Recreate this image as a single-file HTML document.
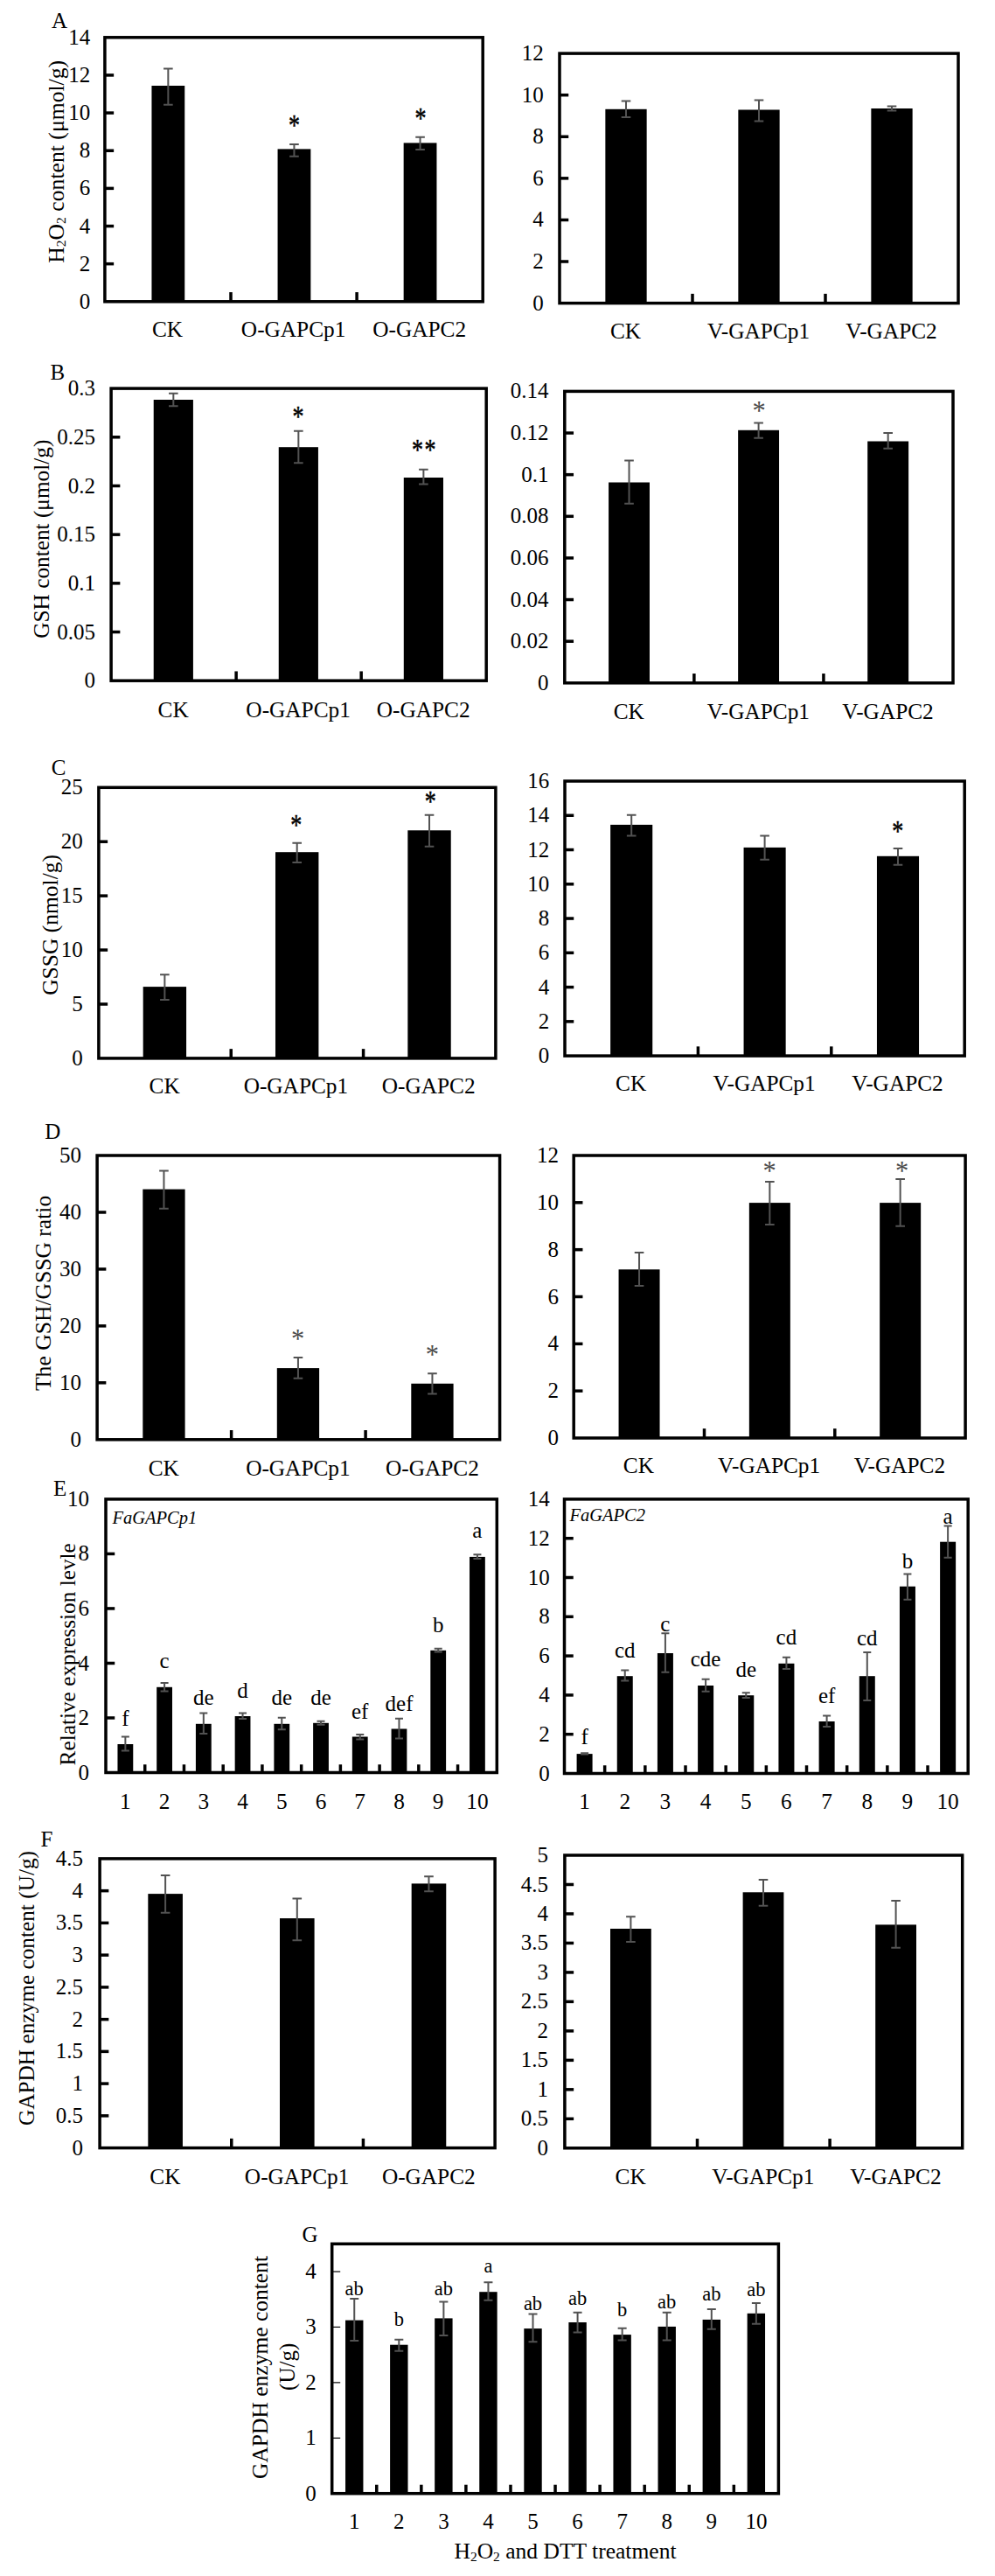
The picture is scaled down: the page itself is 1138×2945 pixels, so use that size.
<!DOCTYPE html>
<html lang="en"><head><meta charset="utf-8"><title>Figure</title>
<style>html,body{margin:0;padding:0;background:#fff}svg{display:block}</style>
</head><body>
<svg width="1138" height="2945" viewBox="0 0 1138 2945" font-family="'Liberation Serif', 'Times New Roman', serif" fill="#000">
<text x="59.0" y="31.6" font-size="25" text-anchor="start">A</text>
<text transform="translate(72.8 184.8) rotate(-90)" font-size="25.7" text-anchor="middle">H<tspan font-size="15.5" dy="2.6">2</tspan><tspan dy="-2.6">O</tspan><tspan font-size="15.5" dy="2.6">2</tspan><tspan dy="-2.6"> content (μmol/g)</tspan></text>
<rect x="119.90" y="42.80" width="432.30" height="302.00" fill="none" stroke="#000" stroke-width="3.5"/>
<text x="103.3" y="352.8" font-size="25" text-anchor="end">0</text>
<line x1="119.90" x2="130.15" y1="301.66" y2="301.66" stroke="#000" stroke-width="3.5"/>
<text x="103.3" y="309.7" font-size="25" text-anchor="end">2</text>
<line x1="119.90" x2="130.15" y1="258.51" y2="258.51" stroke="#000" stroke-width="3.5"/>
<text x="103.3" y="266.5" font-size="25" text-anchor="end">4</text>
<line x1="119.90" x2="130.15" y1="215.37" y2="215.37" stroke="#000" stroke-width="3.5"/>
<text x="103.3" y="223.4" font-size="25" text-anchor="end">6</text>
<line x1="119.90" x2="130.15" y1="172.23" y2="172.23" stroke="#000" stroke-width="3.5"/>
<text x="103.3" y="180.2" font-size="25" text-anchor="end">8</text>
<line x1="119.90" x2="130.15" y1="129.09" y2="129.09" stroke="#000" stroke-width="3.5"/>
<text x="103.3" y="137.1" font-size="25" text-anchor="end">10</text>
<line x1="119.90" x2="130.15" y1="85.94" y2="85.94" stroke="#000" stroke-width="3.5"/>
<text x="103.3" y="93.9" font-size="25" text-anchor="end">12</text>
<text x="103.3" y="50.8" font-size="25" text-anchor="end">14</text>
<line x1="264.00" x2="264.00" y1="344.80" y2="334.05" stroke="#000" stroke-width="3.5"/>
<line x1="408.10" x2="408.10" y1="344.80" y2="334.05" stroke="#000" stroke-width="3.5"/>
<rect x="173.45" y="98.00" width="37.80" height="246.80" fill="#000"/>
<path d="M192.35 78.40V119.70M187.05 78.40h10.6M187.05 119.70h10.6" stroke="#525252" stroke-width="2" fill="none"/>
<rect x="317.55" y="170.40" width="37.80" height="174.40" fill="#000"/>
<path d="M336.45 164.90V178.80M331.15 164.90h10.6M331.15 178.80h10.6" stroke="#525252" stroke-width="2" fill="none"/>
<rect x="461.65" y="163.40" width="37.80" height="181.40" fill="#000"/>
<path d="M480.55 156.80V171.00M475.25 156.80h10.6M475.25 171.00h10.6" stroke="#525252" stroke-width="2" fill="none"/>
<text x="191.5" y="384.6" font-size="25.3" text-anchor="middle">CK</text>
<text x="335.6" y="384.6" font-size="25.3" text-anchor="middle">O-GAPCp1</text>
<text x="479.7" y="384.6" font-size="25.3" text-anchor="middle">O-GAPC2</text>
<text transform="translate(336.5 139.0) scale(0.93 1.19)" y="12.79" font-size="28" text-anchor="middle" stroke="#000" stroke-width="0.45">*</text>
<text transform="translate(480.9 131.2) scale(0.93 1.19)" y="12.79" font-size="28" text-anchor="middle" stroke="#000" stroke-width="0.45">*</text>
<rect x="640.00" y="61.10" width="456.00" height="285.50" fill="none" stroke="#000" stroke-width="3.5"/>
<text x="621.8" y="354.6" font-size="25" text-anchor="end">0</text>
<line x1="640.00" x2="650.25" y1="299.02" y2="299.02" stroke="#000" stroke-width="3.5"/>
<text x="621.8" y="307.0" font-size="25" text-anchor="end">2</text>
<line x1="640.00" x2="650.25" y1="251.43" y2="251.43" stroke="#000" stroke-width="3.5"/>
<text x="621.8" y="259.4" font-size="25" text-anchor="end">4</text>
<line x1="640.00" x2="650.25" y1="203.85" y2="203.85" stroke="#000" stroke-width="3.5"/>
<text x="621.8" y="211.9" font-size="25" text-anchor="end">6</text>
<line x1="640.00" x2="650.25" y1="156.27" y2="156.27" stroke="#000" stroke-width="3.5"/>
<text x="621.8" y="164.3" font-size="25" text-anchor="end">8</text>
<line x1="640.00" x2="650.25" y1="108.68" y2="108.68" stroke="#000" stroke-width="3.5"/>
<text x="621.8" y="116.7" font-size="25" text-anchor="end">10</text>
<text x="621.8" y="69.1" font-size="25" text-anchor="end">12</text>
<line x1="792.00" x2="792.00" y1="346.60" y2="335.85" stroke="#000" stroke-width="3.5"/>
<line x1="944.00" x2="944.00" y1="346.60" y2="335.85" stroke="#000" stroke-width="3.5"/>
<rect x="692.35" y="124.80" width="47.30" height="221.80" fill="#000"/>
<path d="M716.00 115.40V134.00M710.70 115.40h10.6M710.70 134.00h10.6" stroke="#525252" stroke-width="2" fill="none"/>
<rect x="844.35" y="125.50" width="47.30" height="221.10" fill="#000"/>
<path d="M868.00 114.40V138.50M862.70 114.40h10.6M862.70 138.50h10.6" stroke="#525252" stroke-width="2" fill="none"/>
<rect x="996.35" y="124.00" width="47.30" height="222.60" fill="#000"/>
<path d="M1020.00 121.50V126.50M1014.70 121.50h10.6M1014.70 126.50h10.6" stroke="#525252" stroke-width="2" fill="none"/>
<text x="715.5" y="386.8" font-size="25.3" text-anchor="middle">CK</text>
<text x="867.5" y="386.8" font-size="25.3" text-anchor="middle">V-GAPCp1</text>
<text x="1019.5" y="386.8" font-size="25.3" text-anchor="middle">V-GAPC2</text>
<text x="57.4" y="434.2" font-size="25" text-anchor="start">B</text>
<text transform="translate(56.2 616.2) rotate(-90)" font-size="25.3" text-anchor="middle">GSH content (μmol/g)</text>
<rect x="127.10" y="444.10" width="429.10" height="334.10" fill="none" stroke="#000" stroke-width="3.5"/>
<text x="109.1" y="786.2" font-size="25" text-anchor="end">0</text>
<line x1="127.10" x2="137.35" y1="722.52" y2="722.52" stroke="#000" stroke-width="3.5"/>
<text x="109.1" y="730.5" font-size="25" text-anchor="end">0.05</text>
<line x1="127.10" x2="137.35" y1="666.83" y2="666.83" stroke="#000" stroke-width="3.5"/>
<text x="109.1" y="674.8" font-size="25" text-anchor="end">0.1</text>
<line x1="127.10" x2="137.35" y1="611.15" y2="611.15" stroke="#000" stroke-width="3.5"/>
<text x="109.1" y="619.1" font-size="25" text-anchor="end">0.15</text>
<line x1="127.10" x2="137.35" y1="555.47" y2="555.47" stroke="#000" stroke-width="3.5"/>
<text x="109.1" y="563.5" font-size="25" text-anchor="end">0.2</text>
<line x1="127.10" x2="137.35" y1="499.78" y2="499.78" stroke="#000" stroke-width="3.5"/>
<text x="109.1" y="507.8" font-size="25" text-anchor="end">0.25</text>
<text x="109.1" y="452.1" font-size="25" text-anchor="end">0.3</text>
<line x1="270.13" x2="270.13" y1="778.20" y2="767.45" stroke="#000" stroke-width="3.5"/>
<line x1="413.17" x2="413.17" y1="778.20" y2="767.45" stroke="#000" stroke-width="3.5"/>
<rect x="175.72" y="457.00" width="45.20" height="321.20" fill="#000"/>
<path d="M198.32 449.80V464.20M193.02 449.80h10.6M193.02 464.20h10.6" stroke="#525252" stroke-width="2" fill="none"/>
<rect x="318.75" y="511.20" width="45.20" height="267.00" fill="#000"/>
<path d="M341.35 492.70V529.30M336.05 492.70h10.6M336.05 529.30h10.6" stroke="#525252" stroke-width="2" fill="none"/>
<rect x="461.78" y="546.00" width="45.20" height="232.20" fill="#000"/>
<path d="M484.38 536.70V553.60M479.08 536.70h10.6M479.08 553.60h10.6" stroke="#525252" stroke-width="2" fill="none"/>
<text x="198.1" y="820.2" font-size="25.3" text-anchor="middle">CK</text>
<text x="341.1" y="820.2" font-size="25.3" text-anchor="middle">O-GAPCp1</text>
<text x="484.2" y="820.2" font-size="25.3" text-anchor="middle">O-GAPC2</text>
<text transform="translate(340.9 472.2) scale(0.93 1.19)" y="12.79" font-size="28" text-anchor="middle" stroke="#000" stroke-width="0.45">*</text>
<text transform="translate(485.5 509.3) scale(0.93 1.19)" y="12.79" font-size="28" text-anchor="middle" stroke="#000" stroke-width="0.45" letter-spacing="1.6">**</text>
<rect x="645.80" y="447.40" width="444.20" height="333.40" fill="none" stroke="#000" stroke-width="3.5"/>
<text x="627.4" y="788.8" font-size="25" text-anchor="end">0</text>
<line x1="645.80" x2="656.05" y1="733.17" y2="733.17" stroke="#000" stroke-width="3.5"/>
<text x="627.4" y="741.2" font-size="25" text-anchor="end">0.02</text>
<line x1="645.80" x2="656.05" y1="685.54" y2="685.54" stroke="#000" stroke-width="3.5"/>
<text x="627.4" y="693.5" font-size="25" text-anchor="end">0.04</text>
<line x1="645.80" x2="656.05" y1="637.91" y2="637.91" stroke="#000" stroke-width="3.5"/>
<text x="627.4" y="645.9" font-size="25" text-anchor="end">0.06</text>
<line x1="645.80" x2="656.05" y1="590.29" y2="590.29" stroke="#000" stroke-width="3.5"/>
<text x="627.4" y="598.3" font-size="25" text-anchor="end">0.08</text>
<line x1="645.80" x2="656.05" y1="542.66" y2="542.66" stroke="#000" stroke-width="3.5"/>
<text x="627.4" y="550.7" font-size="25" text-anchor="end">0.1</text>
<line x1="645.80" x2="656.05" y1="495.03" y2="495.03" stroke="#000" stroke-width="3.5"/>
<text x="627.4" y="503.0" font-size="25" text-anchor="end">0.12</text>
<text x="627.4" y="455.4" font-size="25" text-anchor="end">0.14</text>
<line x1="793.87" x2="793.87" y1="780.80" y2="770.05" stroke="#000" stroke-width="3.5"/>
<line x1="941.93" x2="941.93" y1="780.80" y2="770.05" stroke="#000" stroke-width="3.5"/>
<rect x="696.08" y="551.50" width="46.90" height="229.30" fill="#000"/>
<path d="M719.53 526.60V575.80M714.23 526.60h10.6M714.23 575.80h10.6" stroke="#525252" stroke-width="2" fill="none"/>
<rect x="844.15" y="491.80" width="46.90" height="289.00" fill="#000"/>
<path d="M867.60 483.50V500.70M862.30 483.50h10.6M862.30 500.70h10.6" stroke="#525252" stroke-width="2" fill="none"/>
<rect x="992.22" y="504.50" width="46.90" height="276.30" fill="#000"/>
<path d="M1015.67 495.10V512.80M1010.37 495.10h10.6M1010.37 512.80h10.6" stroke="#525252" stroke-width="2" fill="none"/>
<text x="719.3" y="822.3" font-size="25.3" text-anchor="middle">CK</text>
<text x="867.4" y="822.3" font-size="25.3" text-anchor="middle">V-GAPCp1</text>
<text x="1015.5" y="822.3" font-size="25.3" text-anchor="middle">V-GAPC2</text>
<text transform="translate(868.0 465.3) scale(1 1)" y="14.21" font-size="30.5" text-anchor="middle" fill="#4a4a4a">*</text>
<text x="58.7" y="886.0" font-size="25" text-anchor="start">C</text>
<text transform="translate(65.5 1057.4) rotate(-90)" font-size="25.5" text-anchor="middle">GSSG (nmol/g)</text>
<rect x="112.90" y="900.30" width="454.00" height="309.60" fill="none" stroke="#000" stroke-width="3.5"/>
<text x="94.7" y="1217.9" font-size="25" text-anchor="end">0</text>
<line x1="112.90" x2="123.15" y1="1147.98" y2="1147.98" stroke="#000" stroke-width="3.5"/>
<text x="94.7" y="1156.0" font-size="25" text-anchor="end">5</text>
<line x1="112.90" x2="123.15" y1="1086.06" y2="1086.06" stroke="#000" stroke-width="3.5"/>
<text x="94.7" y="1094.1" font-size="25" text-anchor="end">10</text>
<line x1="112.90" x2="123.15" y1="1024.14" y2="1024.14" stroke="#000" stroke-width="3.5"/>
<text x="94.7" y="1032.1" font-size="25" text-anchor="end">15</text>
<line x1="112.90" x2="123.15" y1="962.22" y2="962.22" stroke="#000" stroke-width="3.5"/>
<text x="94.7" y="970.2" font-size="25" text-anchor="end">20</text>
<text x="94.7" y="908.3" font-size="25" text-anchor="end">25</text>
<line x1="264.23" x2="264.23" y1="1209.90" y2="1199.15" stroke="#000" stroke-width="3.5"/>
<line x1="415.57" x2="415.57" y1="1209.90" y2="1199.15" stroke="#000" stroke-width="3.5"/>
<rect x="163.67" y="1128.10" width="49.40" height="81.80" fill="#000"/>
<path d="M188.37 1114.20V1143.00M183.07 1114.20h10.6M183.07 1143.00h10.6" stroke="#525252" stroke-width="2" fill="none"/>
<rect x="315.00" y="974.20" width="49.40" height="235.70" fill="#000"/>
<path d="M339.70 963.80V986.00M334.40 963.80h10.6M334.40 986.00h10.6" stroke="#525252" stroke-width="2" fill="none"/>
<rect x="466.33" y="949.30" width="49.40" height="260.60" fill="#000"/>
<path d="M491.03 931.80V967.70M485.73 931.80h10.6M485.73 967.70h10.6" stroke="#525252" stroke-width="2" fill="none"/>
<text x="188.1" y="1250.3" font-size="25.3" text-anchor="middle">CK</text>
<text x="338.4" y="1250.3" font-size="25.3" text-anchor="middle">O-GAPCp1</text>
<text x="490.2" y="1250.3" font-size="25.3" text-anchor="middle">O-GAPC2</text>
<text transform="translate(338.8 938.9) scale(0.93 1.19)" y="12.79" font-size="28" text-anchor="middle" stroke="#000" stroke-width="0.45">*</text>
<text transform="translate(492.2 911.8) scale(0.93 1.19)" y="12.79" font-size="28" text-anchor="middle" stroke="#000" stroke-width="0.45">*</text>
<rect x="646.00" y="893.00" width="457.20" height="314.10" fill="none" stroke="#000" stroke-width="3.5"/>
<text x="628.3" y="1215.1" font-size="25" text-anchor="end">0</text>
<line x1="646.00" x2="656.25" y1="1167.84" y2="1167.84" stroke="#000" stroke-width="3.5"/>
<text x="628.3" y="1175.8" font-size="25" text-anchor="end">2</text>
<line x1="646.00" x2="656.25" y1="1128.57" y2="1128.57" stroke="#000" stroke-width="3.5"/>
<text x="628.3" y="1136.6" font-size="25" text-anchor="end">4</text>
<line x1="646.00" x2="656.25" y1="1089.31" y2="1089.31" stroke="#000" stroke-width="3.5"/>
<text x="628.3" y="1097.3" font-size="25" text-anchor="end">6</text>
<line x1="646.00" x2="656.25" y1="1050.05" y2="1050.05" stroke="#000" stroke-width="3.5"/>
<text x="628.3" y="1058.0" font-size="25" text-anchor="end">8</text>
<line x1="646.00" x2="656.25" y1="1010.79" y2="1010.79" stroke="#000" stroke-width="3.5"/>
<text x="628.3" y="1018.8" font-size="25" text-anchor="end">10</text>
<line x1="646.00" x2="656.25" y1="971.52" y2="971.52" stroke="#000" stroke-width="3.5"/>
<text x="628.3" y="979.5" font-size="25" text-anchor="end">12</text>
<line x1="646.00" x2="656.25" y1="932.26" y2="932.26" stroke="#000" stroke-width="3.5"/>
<text x="628.3" y="940.3" font-size="25" text-anchor="end">14</text>
<text x="628.3" y="901.0" font-size="25" text-anchor="end">16</text>
<line x1="798.40" x2="798.40" y1="1207.10" y2="1196.35" stroke="#000" stroke-width="3.5"/>
<line x1="950.80" x2="950.80" y1="1207.10" y2="1196.35" stroke="#000" stroke-width="3.5"/>
<rect x="698.15" y="942.90" width="48.10" height="264.20" fill="#000"/>
<path d="M722.20 931.80V955.60M716.90 931.80h10.6M716.90 955.60h10.6" stroke="#525252" stroke-width="2" fill="none"/>
<rect x="850.55" y="968.90" width="48.10" height="238.20" fill="#000"/>
<path d="M874.60 955.60V982.70M869.30 955.60h10.6M869.30 982.70h10.6" stroke="#525252" stroke-width="2" fill="none"/>
<rect x="1002.95" y="978.80" width="48.10" height="228.30" fill="#000"/>
<path d="M1027.00 970.00V988.80M1021.70 970.00h10.6M1021.70 988.80h10.6" stroke="#525252" stroke-width="2" fill="none"/>
<text x="721.7" y="1247.1" font-size="25.3" text-anchor="middle">CK</text>
<text x="874.1" y="1247.1" font-size="25.3" text-anchor="middle">V-GAPCp1</text>
<text x="1026.5" y="1247.1" font-size="25.3" text-anchor="middle">V-GAPC2</text>
<text transform="translate(1026.7 945.6) scale(0.93 1.19)" y="12.79" font-size="28" text-anchor="middle" stroke="#000" stroke-width="0.45">*</text>
<text x="51.2" y="1301.5" font-size="25" text-anchor="start">D</text>
<text transform="translate(58.1 1478.4) rotate(-90)" font-size="25.6" text-anchor="middle">The GSH/GSSG ratio</text>
<rect x="111.10" y="1321.00" width="460.50" height="324.80" fill="none" stroke="#000" stroke-width="3.5"/>
<text x="93.0" y="1653.8" font-size="25" text-anchor="end">0</text>
<line x1="111.10" x2="121.35" y1="1580.84" y2="1580.84" stroke="#000" stroke-width="3.5"/>
<text x="93.0" y="1588.8" font-size="25" text-anchor="end">10</text>
<line x1="111.10" x2="121.35" y1="1515.88" y2="1515.88" stroke="#000" stroke-width="3.5"/>
<text x="93.0" y="1523.9" font-size="25" text-anchor="end">20</text>
<line x1="111.10" x2="121.35" y1="1450.92" y2="1450.92" stroke="#000" stroke-width="3.5"/>
<text x="93.0" y="1458.9" font-size="25" text-anchor="end">30</text>
<line x1="111.10" x2="121.35" y1="1385.96" y2="1385.96" stroke="#000" stroke-width="3.5"/>
<text x="93.0" y="1394.0" font-size="25" text-anchor="end">40</text>
<text x="93.0" y="1329.0" font-size="25" text-anchor="end">50</text>
<line x1="264.60" x2="264.60" y1="1645.80" y2="1635.05" stroke="#000" stroke-width="3.5"/>
<line x1="418.10" x2="418.10" y1="1645.80" y2="1635.05" stroke="#000" stroke-width="3.5"/>
<rect x="163.30" y="1359.60" width="48.30" height="286.20" fill="#000"/>
<path d="M187.45 1338.50V1381.70M182.15 1338.50h10.6M182.15 1381.70h10.6" stroke="#525252" stroke-width="2" fill="none"/>
<rect x="316.80" y="1564.10" width="48.30" height="81.70" fill="#000"/>
<path d="M340.95 1551.90V1575.70M335.65 1551.90h10.6M335.65 1575.70h10.6" stroke="#525252" stroke-width="2" fill="none"/>
<rect x="470.30" y="1581.80" width="48.30" height="64.00" fill="#000"/>
<path d="M494.45 1570.20V1593.40M489.15 1570.20h10.6M489.15 1593.40h10.6" stroke="#525252" stroke-width="2" fill="none"/>
<text x="187.3" y="1686.9" font-size="25.3" text-anchor="middle">CK</text>
<text x="340.9" y="1686.9" font-size="25.3" text-anchor="middle">O-GAPCp1</text>
<text x="494.4" y="1686.9" font-size="25.3" text-anchor="middle">O-GAPC2</text>
<text transform="translate(340.7 1527.0) scale(1 1)" y="14.21" font-size="30.5" text-anchor="middle" fill="#4a4a4a">*</text>
<text transform="translate(494.3 1544.7) scale(1 1)" y="14.21" font-size="30.5" text-anchor="middle" fill="#4a4a4a">*</text>
<rect x="656.20" y="1321.00" width="447.90" height="323.00" fill="none" stroke="#000" stroke-width="3.5"/>
<text x="638.9" y="1652.0" font-size="25" text-anchor="end">0</text>
<line x1="656.20" x2="666.45" y1="1590.17" y2="1590.17" stroke="#000" stroke-width="3.5"/>
<text x="638.9" y="1598.2" font-size="25" text-anchor="end">2</text>
<line x1="656.20" x2="666.45" y1="1536.33" y2="1536.33" stroke="#000" stroke-width="3.5"/>
<text x="638.9" y="1544.3" font-size="25" text-anchor="end">4</text>
<line x1="656.20" x2="666.45" y1="1482.50" y2="1482.50" stroke="#000" stroke-width="3.5"/>
<text x="638.9" y="1490.5" font-size="25" text-anchor="end">6</text>
<line x1="656.20" x2="666.45" y1="1428.67" y2="1428.67" stroke="#000" stroke-width="3.5"/>
<text x="638.9" y="1436.7" font-size="25" text-anchor="end">8</text>
<line x1="656.20" x2="666.45" y1="1374.83" y2="1374.83" stroke="#000" stroke-width="3.5"/>
<text x="638.9" y="1382.8" font-size="25" text-anchor="end">10</text>
<text x="638.9" y="1329.0" font-size="25" text-anchor="end">12</text>
<line x1="805.50" x2="805.50" y1="1644.00" y2="1633.25" stroke="#000" stroke-width="3.5"/>
<line x1="954.80" x2="954.80" y1="1644.00" y2="1633.25" stroke="#000" stroke-width="3.5"/>
<rect x="707.55" y="1451.30" width="47.00" height="192.70" fill="#000"/>
<path d="M731.05 1432.00V1470.10M725.75 1432.00h10.6M725.75 1470.10h10.6" stroke="#525252" stroke-width="2" fill="none"/>
<rect x="856.85" y="1375.10" width="47.00" height="268.90" fill="#000"/>
<path d="M880.35 1351.00V1400.00M875.05 1351.00h10.6M875.05 1400.00h10.6" stroke="#525252" stroke-width="2" fill="none"/>
<rect x="1006.15" y="1375.10" width="47.00" height="268.90" fill="#000"/>
<path d="M1029.65 1348.00V1401.70M1024.35 1348.00h10.6M1024.35 1401.70h10.6" stroke="#525252" stroke-width="2" fill="none"/>
<text x="730.4" y="1683.5" font-size="25.3" text-anchor="middle">CK</text>
<text x="879.6" y="1683.5" font-size="25.3" text-anchor="middle">V-GAPCp1</text>
<text x="1028.9" y="1683.5" font-size="25.3" text-anchor="middle">V-GAPC2</text>
<text transform="translate(880.1 1334.7) scale(1 1)" y="14.21" font-size="30.5" text-anchor="middle" fill="#4a4a4a">*</text>
<text transform="translate(1031.6 1334.7) scale(1 1)" y="14.21" font-size="30.5" text-anchor="middle" fill="#4a4a4a">*</text>
<text x="61.0" y="1709.8" font-size="25" text-anchor="start">E</text>
<text transform="translate(85.8 1891.3) rotate(-90)" font-size="25.3" text-anchor="middle">Relative expression levle</text>
<rect x="121.00" y="1713.90" width="447.30" height="312.60" fill="none" stroke="#000" stroke-width="3.5"/>
<text x="102.0" y="2034.5" font-size="25" text-anchor="end">0</text>
<line x1="121.00" x2="131.25" y1="1963.98" y2="1963.98" stroke="#000" stroke-width="3.5"/>
<text x="102.0" y="1972.0" font-size="25" text-anchor="end">2</text>
<line x1="121.00" x2="131.25" y1="1901.46" y2="1901.46" stroke="#000" stroke-width="3.5"/>
<text x="102.0" y="1909.5" font-size="25" text-anchor="end">4</text>
<line x1="121.00" x2="131.25" y1="1838.94" y2="1838.94" stroke="#000" stroke-width="3.5"/>
<text x="102.0" y="1846.9" font-size="25" text-anchor="end">6</text>
<line x1="121.00" x2="131.25" y1="1776.42" y2="1776.42" stroke="#000" stroke-width="3.5"/>
<text x="102.0" y="1784.4" font-size="25" text-anchor="end">8</text>
<text x="102.0" y="1721.9" font-size="25" text-anchor="end">10</text>
<line x1="165.73" x2="165.73" y1="2026.50" y2="2017.25" stroke="#000" stroke-width="3.5"/>
<line x1="210.46" x2="210.46" y1="2026.50" y2="2017.25" stroke="#000" stroke-width="3.5"/>
<line x1="255.19" x2="255.19" y1="2026.50" y2="2017.25" stroke="#000" stroke-width="3.5"/>
<line x1="299.92" x2="299.92" y1="2026.50" y2="2017.25" stroke="#000" stroke-width="3.5"/>
<line x1="344.65" x2="344.65" y1="2026.50" y2="2017.25" stroke="#000" stroke-width="3.5"/>
<line x1="389.38" x2="389.38" y1="2026.50" y2="2017.25" stroke="#000" stroke-width="3.5"/>
<line x1="434.11" x2="434.11" y1="2026.50" y2="2017.25" stroke="#000" stroke-width="3.5"/>
<line x1="478.84" x2="478.84" y1="2026.50" y2="2017.25" stroke="#000" stroke-width="3.5"/>
<line x1="523.57" x2="523.57" y1="2026.50" y2="2017.25" stroke="#000" stroke-width="3.5"/>
<rect x="134.47" y="1994.00" width="17.80" height="32.50" fill="#000"/>
<path d="M143.37 1985.50V2001.50M138.87 1985.50h9M138.87 2001.50h9" stroke="#525252" stroke-width="2" fill="none"/>
<rect x="179.19" y="1928.80" width="17.80" height="97.70" fill="#000"/>
<path d="M188.09 1924.00V1933.40M183.59 1924.00h9M183.59 1933.40h9" stroke="#525252" stroke-width="2" fill="none"/>
<rect x="223.92" y="1970.80" width="17.80" height="55.70" fill="#000"/>
<path d="M232.82 1958.40V1981.90M228.32 1958.40h9M228.32 1981.90h9" stroke="#525252" stroke-width="2" fill="none"/>
<rect x="268.65" y="1962.00" width="17.80" height="64.50" fill="#000"/>
<path d="M277.55 1958.40V1965.00M273.05 1958.40h9M273.05 1965.00h9" stroke="#525252" stroke-width="2" fill="none"/>
<rect x="313.38" y="1970.80" width="17.80" height="55.70" fill="#000"/>
<path d="M322.28 1963.80V1977.20M317.78 1963.80h9M317.78 1977.20h9" stroke="#525252" stroke-width="2" fill="none"/>
<rect x="358.12" y="1969.80" width="17.80" height="56.70" fill="#000"/>
<path d="M367.01 1967.70V1971.70M362.51 1967.70h9M362.51 1971.70h9" stroke="#525252" stroke-width="2" fill="none"/>
<rect x="402.85" y="1985.50" width="17.80" height="41.00" fill="#000"/>
<path d="M411.75 1983.10V1988.50M407.25 1983.10h9M407.25 1988.50h9" stroke="#525252" stroke-width="2" fill="none"/>
<rect x="447.57" y="1976.50" width="17.80" height="50.00" fill="#000"/>
<path d="M456.47 1964.70V1987.60M451.97 1964.70h9M451.97 1987.60h9" stroke="#525252" stroke-width="2" fill="none"/>
<rect x="492.31" y="1886.80" width="17.80" height="139.70" fill="#000"/>
<path d="M501.20 1884.80V1888.40M496.70 1884.80h9M496.70 1888.40h9" stroke="#525252" stroke-width="2" fill="none"/>
<rect x="537.03" y="1779.90" width="17.80" height="246.60" fill="#000"/>
<path d="M545.93 1777.20V1782.00M541.43 1777.20h9M541.43 1782.00h9" stroke="#525252" stroke-width="2" fill="none"/>
<text x="143.4" y="2067.8" font-size="25.3" text-anchor="middle">1</text>
<text x="188.1" y="2067.8" font-size="25.3" text-anchor="middle">2</text>
<text x="232.8" y="2067.8" font-size="25.3" text-anchor="middle">3</text>
<text x="277.6" y="2067.8" font-size="25.3" text-anchor="middle">4</text>
<text x="322.3" y="2067.8" font-size="25.3" text-anchor="middle">5</text>
<text x="367.0" y="2067.8" font-size="25.3" text-anchor="middle">6</text>
<text x="411.7" y="2067.8" font-size="25.3" text-anchor="middle">7</text>
<text x="456.5" y="2067.8" font-size="25.3" text-anchor="middle">8</text>
<text x="501.2" y="2067.8" font-size="25.3" text-anchor="middle">9</text>
<text x="545.9" y="2067.8" font-size="25.3" text-anchor="middle">10</text>
<text x="143.4" y="1973.0" font-size="25" text-anchor="middle">f</text>
<text x="188.1" y="1907.0" font-size="25" text-anchor="middle">c</text>
<text x="232.8" y="1948.8" font-size="25" text-anchor="middle">de</text>
<text x="277.6" y="1941.3" font-size="25" text-anchor="middle">d</text>
<text x="322.3" y="1949.2" font-size="25" text-anchor="middle">de</text>
<text x="367.0" y="1948.8" font-size="25" text-anchor="middle">de</text>
<text x="411.7" y="1964.8" font-size="25" text-anchor="middle">ef</text>
<text x="456.5" y="1955.8" font-size="25" text-anchor="middle">def</text>
<text x="501.2" y="1866.2" font-size="25" text-anchor="middle">b</text>
<text x="545.9" y="1758.3" font-size="25" text-anchor="middle">a</text>
<text x="128.5" y="1742.2" font-size="20.5" font-style="italic" text-anchor="start">FaGAPCp1</text>
<rect x="645.50" y="1713.90" width="461.70" height="313.60" fill="none" stroke="#000" stroke-width="3.5"/>
<text x="628.8" y="2035.5" font-size="25" text-anchor="end">0</text>
<line x1="645.50" x2="655.75" y1="1982.70" y2="1982.70" stroke="#000" stroke-width="3.5"/>
<text x="628.8" y="1990.7" font-size="25" text-anchor="end">2</text>
<line x1="645.50" x2="655.75" y1="1937.90" y2="1937.90" stroke="#000" stroke-width="3.5"/>
<text x="628.8" y="1945.9" font-size="25" text-anchor="end">4</text>
<line x1="645.50" x2="655.75" y1="1893.10" y2="1893.10" stroke="#000" stroke-width="3.5"/>
<text x="628.8" y="1901.1" font-size="25" text-anchor="end">6</text>
<line x1="645.50" x2="655.75" y1="1848.30" y2="1848.30" stroke="#000" stroke-width="3.5"/>
<text x="628.8" y="1856.3" font-size="25" text-anchor="end">8</text>
<line x1="645.50" x2="655.75" y1="1803.50" y2="1803.50" stroke="#000" stroke-width="3.5"/>
<text x="628.8" y="1811.5" font-size="25" text-anchor="end">10</text>
<line x1="645.50" x2="655.75" y1="1758.70" y2="1758.70" stroke="#000" stroke-width="3.5"/>
<text x="628.8" y="1766.7" font-size="25" text-anchor="end">12</text>
<text x="628.8" y="1721.9" font-size="25" text-anchor="end">14</text>
<line x1="691.67" x2="691.67" y1="2027.50" y2="2018.25" stroke="#000" stroke-width="3.5"/>
<line x1="737.84" x2="737.84" y1="2027.50" y2="2018.25" stroke="#000" stroke-width="3.5"/>
<line x1="784.01" x2="784.01" y1="2027.50" y2="2018.25" stroke="#000" stroke-width="3.5"/>
<line x1="830.18" x2="830.18" y1="2027.50" y2="2018.25" stroke="#000" stroke-width="3.5"/>
<line x1="876.35" x2="876.35" y1="2027.50" y2="2018.25" stroke="#000" stroke-width="3.5"/>
<line x1="922.52" x2="922.52" y1="2027.50" y2="2018.25" stroke="#000" stroke-width="3.5"/>
<line x1="968.69" x2="968.69" y1="2027.50" y2="2018.25" stroke="#000" stroke-width="3.5"/>
<line x1="1014.86" x2="1014.86" y1="2027.50" y2="2018.25" stroke="#000" stroke-width="3.5"/>
<line x1="1061.03" x2="1061.03" y1="2027.50" y2="2018.25" stroke="#000" stroke-width="3.5"/>
<rect x="659.59" y="2005.10" width="18.00" height="22.40" fill="#000"/>
<path d="M668.59 2004.30V2005.60M664.09 2004.30h9M664.09 2005.60h9" stroke="#525252" stroke-width="2" fill="none"/>
<rect x="705.75" y="1916.20" width="18.00" height="111.30" fill="#000"/>
<path d="M714.75 1909.50V1921.60M710.25 1909.50h9M710.25 1921.60h9" stroke="#525252" stroke-width="2" fill="none"/>
<rect x="751.92" y="1890.00" width="18.00" height="137.50" fill="#000"/>
<path d="M760.92 1867.30V1911.70M756.42 1867.30h9M756.42 1911.70h9" stroke="#525252" stroke-width="2" fill="none"/>
<rect x="798.10" y="1927.00" width="18.00" height="100.50" fill="#000"/>
<path d="M807.10 1919.80V1933.70M802.60 1919.80h9M802.60 1933.70h9" stroke="#525252" stroke-width="2" fill="none"/>
<rect x="844.26" y="1938.20" width="18.00" height="89.30" fill="#000"/>
<path d="M853.26 1935.20V1940.90M848.76 1935.20h9M848.76 1940.90h9" stroke="#525252" stroke-width="2" fill="none"/>
<rect x="890.43" y="1901.80" width="18.00" height="125.70" fill="#000"/>
<path d="M899.43 1894.80V1908.00M894.93 1894.80h9M894.93 1908.00h9" stroke="#525252" stroke-width="2" fill="none"/>
<rect x="936.61" y="1968.00" width="18.00" height="59.50" fill="#000"/>
<path d="M945.61 1961.40V1974.10M941.11 1961.40h9M941.11 1974.10h9" stroke="#525252" stroke-width="2" fill="none"/>
<rect x="982.78" y="1916.20" width="18.00" height="111.30" fill="#000"/>
<path d="M991.78 1889.00V1943.90M987.28 1889.00h9M987.28 1943.90h9" stroke="#525252" stroke-width="2" fill="none"/>
<rect x="1028.94" y="1813.70" width="18.00" height="213.80" fill="#000"/>
<path d="M1037.94 1799.50V1828.70M1033.44 1799.50h9M1033.44 1828.70h9" stroke="#525252" stroke-width="2" fill="none"/>
<rect x="1075.12" y="1762.70" width="18.00" height="264.80" fill="#000"/>
<path d="M1084.12 1744.60V1780.80M1079.62 1744.60h9M1079.62 1780.80h9" stroke="#525252" stroke-width="2" fill="none"/>
<text x="668.6" y="2068.0" font-size="25.3" text-anchor="middle">1</text>
<text x="714.8" y="2068.0" font-size="25.3" text-anchor="middle">2</text>
<text x="760.9" y="2068.0" font-size="25.3" text-anchor="middle">3</text>
<text x="807.1" y="2068.0" font-size="25.3" text-anchor="middle">4</text>
<text x="853.3" y="2068.0" font-size="25.3" text-anchor="middle">5</text>
<text x="899.4" y="2068.0" font-size="25.3" text-anchor="middle">6</text>
<text x="945.6" y="2068.0" font-size="25.3" text-anchor="middle">7</text>
<text x="991.8" y="2068.0" font-size="25.3" text-anchor="middle">8</text>
<text x="1037.9" y="2068.0" font-size="25.3" text-anchor="middle">9</text>
<text x="1084.1" y="2068.0" font-size="25.3" text-anchor="middle">10</text>
<text x="668.6" y="1994.1" font-size="25" text-anchor="middle">f</text>
<text x="714.8" y="1895.2" font-size="25" text-anchor="middle">cd</text>
<text x="760.9" y="1865.3" font-size="25" text-anchor="middle">c</text>
<text x="807.1" y="1905.0" font-size="25" text-anchor="middle">cde</text>
<text x="853.3" y="1917.2" font-size="25" text-anchor="middle">de</text>
<text x="899.4" y="1880.4" font-size="25" text-anchor="middle">cd</text>
<text x="945.6" y="1946.7" font-size="25" text-anchor="middle">ef</text>
<text x="991.8" y="1881.3" font-size="25" text-anchor="middle">cd</text>
<text x="1037.9" y="1793.0" font-size="25" text-anchor="middle">b</text>
<text x="1084.1" y="1742.3" font-size="25" text-anchor="middle">a</text>
<text x="651.5" y="1739.2" font-size="20.5" font-style="italic" text-anchor="start">FaGAPC2</text>
<text x="46.4" y="2111.0" font-size="25" text-anchor="start">F</text>
<text transform="translate(38.6 2273.0) rotate(-90)" font-size="25.3" text-anchor="middle">GAPDH enzyme content (U/g)</text>
<rect x="114.10" y="2124.90" width="452.00" height="330.70" fill="none" stroke="#000" stroke-width="3.5"/>
<text x="95.0" y="2463.6" font-size="25" text-anchor="end">0</text>
<line x1="114.10" x2="124.35" y1="2418.86" y2="2418.86" stroke="#000" stroke-width="3.5"/>
<text x="95.0" y="2426.9" font-size="25" text-anchor="end">0.5</text>
<line x1="114.10" x2="124.35" y1="2382.11" y2="2382.11" stroke="#000" stroke-width="3.5"/>
<text x="95.0" y="2390.1" font-size="25" text-anchor="end">1</text>
<line x1="114.10" x2="124.35" y1="2345.37" y2="2345.37" stroke="#000" stroke-width="3.5"/>
<text x="95.0" y="2353.4" font-size="25" text-anchor="end">1.5</text>
<line x1="114.10" x2="124.35" y1="2308.62" y2="2308.62" stroke="#000" stroke-width="3.5"/>
<text x="95.0" y="2316.6" font-size="25" text-anchor="end">2</text>
<line x1="114.10" x2="124.35" y1="2271.88" y2="2271.88" stroke="#000" stroke-width="3.5"/>
<text x="95.0" y="2279.9" font-size="25" text-anchor="end">2.5</text>
<line x1="114.10" x2="124.35" y1="2235.13" y2="2235.13" stroke="#000" stroke-width="3.5"/>
<text x="95.0" y="2243.1" font-size="25" text-anchor="end">3</text>
<line x1="114.10" x2="124.35" y1="2198.39" y2="2198.39" stroke="#000" stroke-width="3.5"/>
<text x="95.0" y="2206.4" font-size="25" text-anchor="end">3.5</text>
<line x1="114.10" x2="124.35" y1="2161.64" y2="2161.64" stroke="#000" stroke-width="3.5"/>
<text x="95.0" y="2169.6" font-size="25" text-anchor="end">4</text>
<text x="95.0" y="2132.9" font-size="25" text-anchor="end">4.5</text>
<line x1="264.77" x2="264.77" y1="2455.60" y2="2444.85" stroke="#000" stroke-width="3.5"/>
<line x1="415.43" x2="415.43" y1="2455.60" y2="2444.85" stroke="#000" stroke-width="3.5"/>
<rect x="169.33" y="2165.10" width="39.60" height="290.50" fill="#000"/>
<path d="M189.13 2144.10V2186.70M183.83 2144.10h10.6M183.83 2186.70h10.6" stroke="#525252" stroke-width="2" fill="none"/>
<rect x="320.00" y="2193.10" width="39.60" height="262.50" fill="#000"/>
<path d="M339.80 2170.40V2218.20M334.50 2170.40h10.6M334.50 2218.20h10.6" stroke="#525252" stroke-width="2" fill="none"/>
<rect x="470.67" y="2153.40" width="39.60" height="302.20" fill="#000"/>
<path d="M490.47 2145.30V2162.20M485.17 2145.30h10.6M485.17 2162.20h10.6" stroke="#525252" stroke-width="2" fill="none"/>
<text x="188.9" y="2497.3" font-size="25.3" text-anchor="middle">CK</text>
<text x="339.6" y="2497.3" font-size="25.3" text-anchor="middle">O-GAPCp1</text>
<text x="490.3" y="2497.3" font-size="25.3" text-anchor="middle">O-GAPC2</text>
<rect x="645.90" y="2121.00" width="454.80" height="334.80" fill="none" stroke="#000" stroke-width="3.5"/>
<text x="626.9" y="2463.8" font-size="25" text-anchor="end">0</text>
<line x1="645.90" x2="656.15" y1="2422.32" y2="2422.32" stroke="#000" stroke-width="3.5"/>
<text x="626.9" y="2430.3" font-size="25" text-anchor="end">0.5</text>
<line x1="645.90" x2="656.15" y1="2388.84" y2="2388.84" stroke="#000" stroke-width="3.5"/>
<text x="626.9" y="2396.8" font-size="25" text-anchor="end">1</text>
<line x1="645.90" x2="656.15" y1="2355.36" y2="2355.36" stroke="#000" stroke-width="3.5"/>
<text x="626.9" y="2363.4" font-size="25" text-anchor="end">1.5</text>
<line x1="645.90" x2="656.15" y1="2321.88" y2="2321.88" stroke="#000" stroke-width="3.5"/>
<text x="626.9" y="2329.9" font-size="25" text-anchor="end">2</text>
<line x1="645.90" x2="656.15" y1="2288.40" y2="2288.40" stroke="#000" stroke-width="3.5"/>
<text x="626.9" y="2296.4" font-size="25" text-anchor="end">2.5</text>
<line x1="645.90" x2="656.15" y1="2254.92" y2="2254.92" stroke="#000" stroke-width="3.5"/>
<text x="626.9" y="2262.9" font-size="25" text-anchor="end">3</text>
<line x1="645.90" x2="656.15" y1="2221.44" y2="2221.44" stroke="#000" stroke-width="3.5"/>
<text x="626.9" y="2229.4" font-size="25" text-anchor="end">3.5</text>
<line x1="645.90" x2="656.15" y1="2187.96" y2="2187.96" stroke="#000" stroke-width="3.5"/>
<text x="626.9" y="2196.0" font-size="25" text-anchor="end">4</text>
<line x1="645.90" x2="656.15" y1="2154.48" y2="2154.48" stroke="#000" stroke-width="3.5"/>
<text x="626.9" y="2162.5" font-size="25" text-anchor="end">4.5</text>
<text x="626.9" y="2129.0" font-size="25" text-anchor="end">5</text>
<line x1="797.50" x2="797.50" y1="2455.80" y2="2445.05" stroke="#000" stroke-width="3.5"/>
<line x1="949.10" x2="949.10" y1="2455.80" y2="2445.05" stroke="#000" stroke-width="3.5"/>
<rect x="698.00" y="2205.00" width="46.80" height="250.80" fill="#000"/>
<path d="M721.40 2191.30V2219.90M716.10 2191.30h10.6M716.10 2219.90h10.6" stroke="#525252" stroke-width="2" fill="none"/>
<rect x="849.60" y="2163.30" width="46.80" height="292.50" fill="#000"/>
<path d="M873.00 2149.10V2178.80M867.70 2149.10h10.6M867.70 2178.80h10.6" stroke="#525252" stroke-width="2" fill="none"/>
<rect x="1001.20" y="2200.40" width="46.80" height="255.40" fill="#000"/>
<path d="M1024.60 2173.00V2226.70M1019.30 2173.00h10.6M1019.30 2226.70h10.6" stroke="#525252" stroke-width="2" fill="none"/>
<text x="721.2" y="2496.8" font-size="25.3" text-anchor="middle">CK</text>
<text x="872.8" y="2496.8" font-size="25.3" text-anchor="middle">V-GAPCp1</text>
<text x="1024.4" y="2496.8" font-size="25.3" text-anchor="middle">V-GAPC2</text>
<text x="345.6" y="2562.9" font-size="25" text-anchor="start">G</text>
<text transform="translate(306.2 2706.5) rotate(-90)" font-size="25.5" text-anchor="middle">GAPDH enzyme content</text>
<text transform="translate(337.0 2705.8) rotate(-90)" font-size="25" text-anchor="middle">(U/g)</text>
<rect x="379.70" y="2565.30" width="510.70" height="285.40" fill="none" stroke="#000" stroke-width="3.5"/>
<text x="361.8" y="2858.7" font-size="25" text-anchor="end">0</text>
<line x1="379.70" x2="389.20" y1="2787.28" y2="2787.28" stroke="#000" stroke-width="1.2"/>
<text x="361.8" y="2795.3" font-size="25" text-anchor="end">1</text>
<line x1="379.70" x2="389.20" y1="2723.86" y2="2723.86" stroke="#000" stroke-width="1.2"/>
<text x="361.8" y="2731.9" font-size="25" text-anchor="end">2</text>
<line x1="379.70" x2="389.20" y1="2660.43" y2="2660.43" stroke="#000" stroke-width="1.2"/>
<text x="361.8" y="2668.4" font-size="25" text-anchor="end">3</text>
<line x1="379.70" x2="389.20" y1="2597.01" y2="2597.01" stroke="#000" stroke-width="1.2"/>
<text x="361.8" y="2605.0" font-size="25" text-anchor="end">4</text>
<line x1="430.77" x2="430.77" y1="2850.70" y2="2840.70" stroke="#000" stroke-width="3.5"/>
<line x1="481.84" x2="481.84" y1="2850.70" y2="2840.70" stroke="#000" stroke-width="3.5"/>
<line x1="532.91" x2="532.91" y1="2850.70" y2="2840.70" stroke="#000" stroke-width="3.5"/>
<line x1="583.98" x2="583.98" y1="2850.70" y2="2840.70" stroke="#000" stroke-width="3.5"/>
<line x1="635.05" x2="635.05" y1="2850.70" y2="2840.70" stroke="#000" stroke-width="3.5"/>
<line x1="686.12" x2="686.12" y1="2850.70" y2="2840.70" stroke="#000" stroke-width="3.5"/>
<line x1="737.19" x2="737.19" y1="2850.70" y2="2840.70" stroke="#000" stroke-width="3.5"/>
<line x1="788.26" x2="788.26" y1="2850.70" y2="2840.70" stroke="#000" stroke-width="3.5"/>
<line x1="839.33" x2="839.33" y1="2850.70" y2="2840.70" stroke="#000" stroke-width="3.5"/>
<rect x="395.04" y="2652.60" width="20.40" height="198.10" fill="#000"/>
<path d="M405.24 2627.90V2676.10M400.24 2627.90h10M400.24 2676.10h10" stroke="#525252" stroke-width="2" fill="none"/>
<rect x="446.11" y="2680.70" width="20.40" height="170.00" fill="#000"/>
<path d="M456.31 2674.70V2687.70M451.31 2674.70h10M451.31 2687.70h10" stroke="#525252" stroke-width="2" fill="none"/>
<rect x="497.18" y="2650.40" width="20.40" height="200.30" fill="#000"/>
<path d="M507.38 2631.50V2670.10M502.38 2631.50h10M502.38 2670.10h10" stroke="#525252" stroke-width="2" fill="none"/>
<rect x="548.24" y="2620.20" width="20.40" height="230.50" fill="#000"/>
<path d="M558.44 2609.30V2629.70M553.44 2609.30h10M553.44 2629.70h10" stroke="#525252" stroke-width="2" fill="none"/>
<rect x="599.31" y="2662.10" width="20.40" height="188.60" fill="#000"/>
<path d="M609.51 2645.50V2677.20M604.51 2645.50h10M604.51 2677.20h10" stroke="#525252" stroke-width="2" fill="none"/>
<rect x="650.38" y="2655.00" width="20.40" height="195.70" fill="#000"/>
<path d="M660.59 2643.80V2666.60M655.59 2643.80h10M655.59 2666.60h10" stroke="#525252" stroke-width="2" fill="none"/>
<rect x="701.45" y="2669.10" width="20.40" height="181.60" fill="#000"/>
<path d="M711.65 2661.70V2675.40M706.65 2661.70h10M706.65 2675.40h10" stroke="#525252" stroke-width="2" fill="none"/>
<rect x="752.52" y="2659.90" width="20.40" height="190.80" fill="#000"/>
<path d="M762.72 2643.80V2675.40M757.72 2643.80h10M757.72 2675.40h10" stroke="#525252" stroke-width="2" fill="none"/>
<rect x="803.60" y="2651.90" width="20.40" height="198.80" fill="#000"/>
<path d="M813.80 2639.90V2662.80M808.80 2639.90h10M808.80 2662.80h10" stroke="#525252" stroke-width="2" fill="none"/>
<rect x="854.66" y="2644.80" width="20.40" height="205.90" fill="#000"/>
<path d="M864.87 2632.90V2656.80M859.87 2632.90h10M859.87 2656.80h10" stroke="#525252" stroke-width="2" fill="none"/>
<text x="405.2" y="2891.0" font-size="25" text-anchor="middle">1</text>
<text x="456.3" y="2891.0" font-size="25" text-anchor="middle">2</text>
<text x="507.4" y="2891.0" font-size="25" text-anchor="middle">3</text>
<text x="558.4" y="2891.0" font-size="25" text-anchor="middle">4</text>
<text x="609.5" y="2891.0" font-size="25" text-anchor="middle">5</text>
<text x="660.6" y="2891.0" font-size="25" text-anchor="middle">6</text>
<text x="711.7" y="2891.0" font-size="25" text-anchor="middle">7</text>
<text x="762.7" y="2891.0" font-size="25" text-anchor="middle">8</text>
<text x="813.8" y="2891.0" font-size="25" text-anchor="middle">9</text>
<text x="864.9" y="2891.0" font-size="25" text-anchor="middle">10</text>
<text x="405.2" y="2623.7" font-size="22.5" text-anchor="middle">ab</text>
<text x="456.3" y="2658.8" font-size="22.5" text-anchor="middle">b</text>
<text x="507.4" y="2623.7" font-size="22.5" text-anchor="middle">ab</text>
<text x="558.4" y="2598.3" font-size="22.5" text-anchor="middle">a</text>
<text x="609.5" y="2640.5" font-size="22.5" text-anchor="middle">ab</text>
<text x="660.6" y="2634.6" font-size="22.5" text-anchor="middle">ab</text>
<text x="711.7" y="2647.6" font-size="22.5" text-anchor="middle">b</text>
<text x="762.7" y="2638.8" font-size="22.5" text-anchor="middle">ab</text>
<text x="813.8" y="2630.0" font-size="22.5" text-anchor="middle">ab</text>
<text x="864.9" y="2624.7" font-size="22.5" text-anchor="middle">ab</text>
<text x="646.5" y="2925.0" font-size="25.55" text-anchor="middle">H<tspan font-size="15.5" dy="2.6">2</tspan><tspan dy="-2.6">O</tspan><tspan font-size="15.5" dy="2.6">2</tspan><tspan dy="-2.6"> and DTT treatment</tspan></text>
</svg>
</body></html>
